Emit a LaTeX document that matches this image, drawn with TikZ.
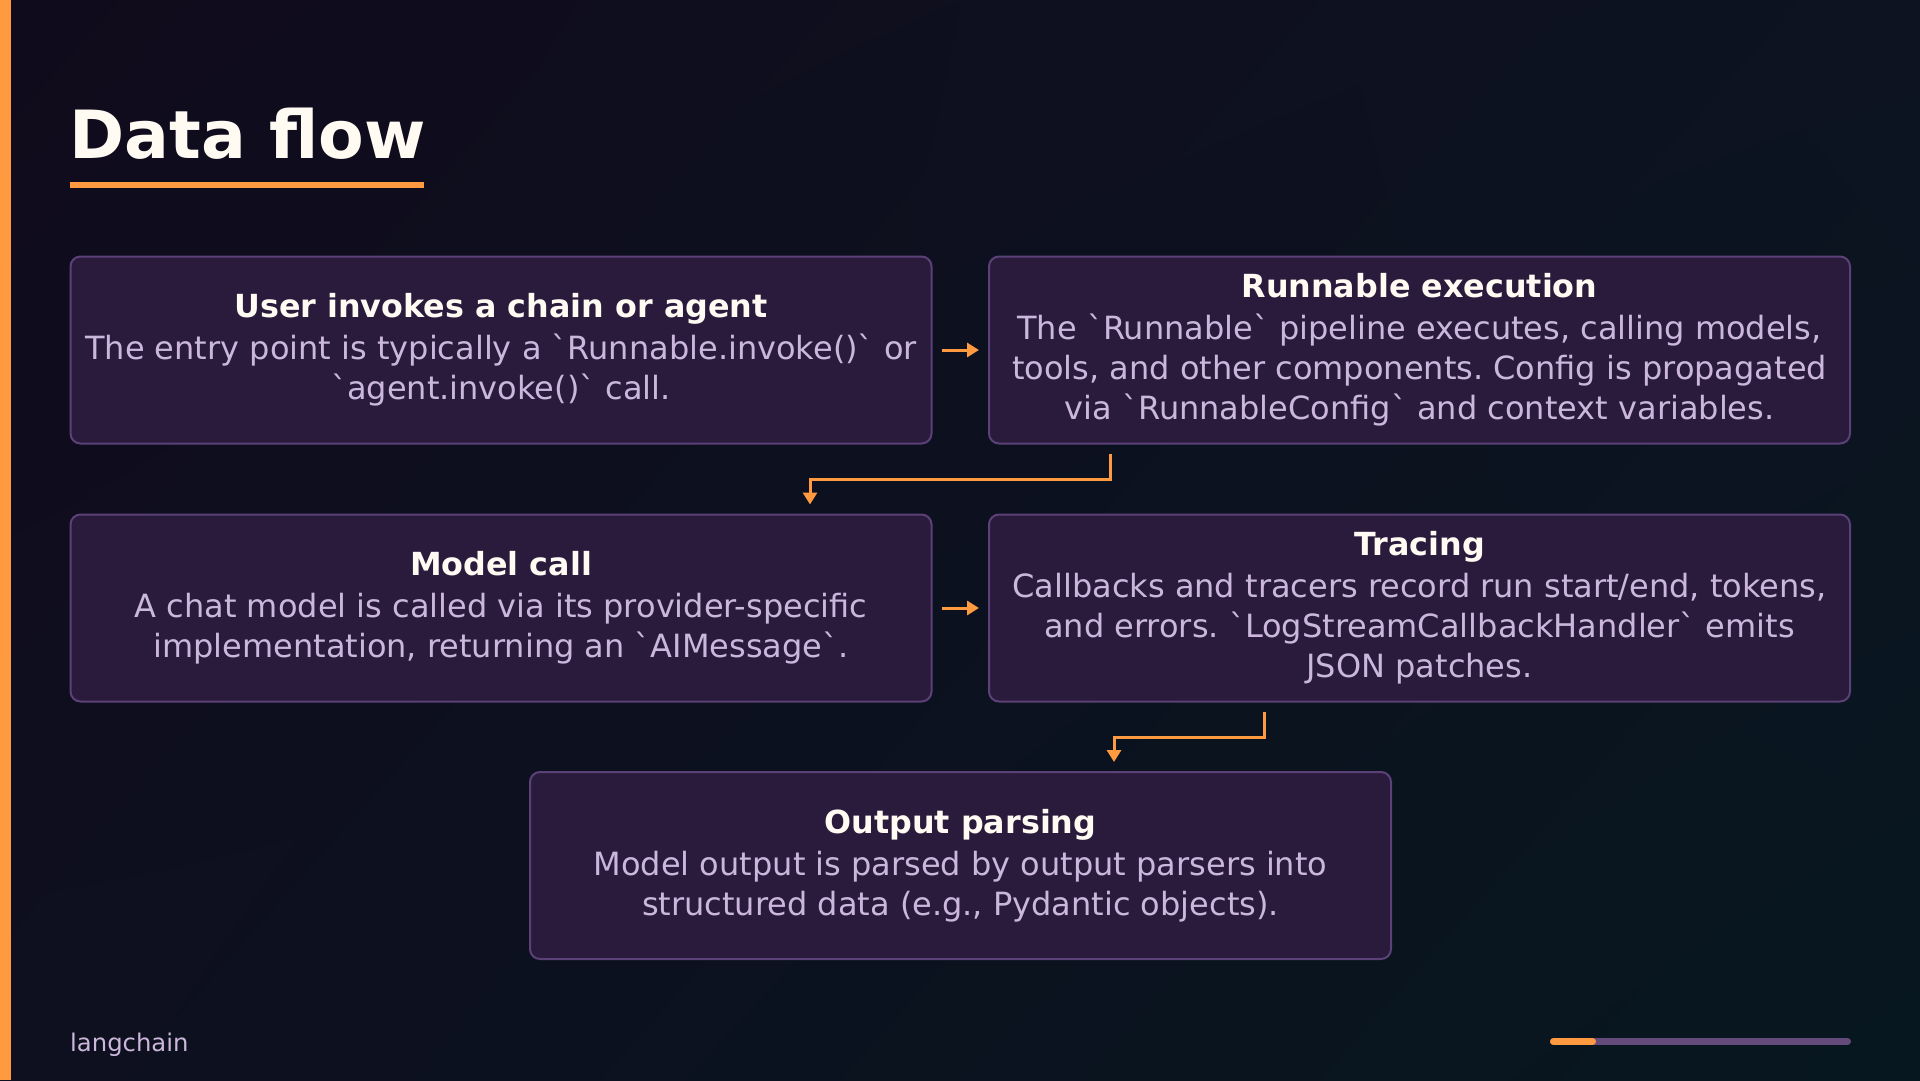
\documentclass[tikz,border=0pt]{standalone}
\usepackage{fontspec}
\setmainfont{DejaVu Sans}[Ligatures=TeXOff]
\usetikzlibrary{arrows.meta,calc,shadings}
\frenchspacing
\definecolor{bgA}{HTML}{100B1C}
\definecolor{bgB}{HTML}{0D1321}
\definecolor{bgC}{HTML}{0E0F1F}
\definecolor{bgD}{HTML}{07171F}
\definecolor{accent}{HTML}{FF9A40}
\definecolor{boxfill}{HTML}{2A1B3D}
\definecolor{boxline}{HTML}{5B4178}
\definecolor{titlec}{HTML}{FFFAF2}
\definecolor{bodyc}{HTML}{CBB7DC}
\definecolor{barpurple}{HTML}{654A7C}
\tikzset{
  card/.style={draw=boxline, line width=2pt, fill=boxfill, rounded corners=10pt,
    minimum width=861pt, minimum height=187pt, inner sep=0pt, align=center,
    text=bodyc, font=\frenchspacing\fontsize{32}{40}\selectfont},
  flowarrow/.style={draw=accent, line width=3pt, -{Triangle[length=12pt,width=14pt]}}
}
\newcommand{\cardhead}[1]{{\bfseries\color{titlec}\fontsize{31.8}{40}\selectfont#1}\\[2pt]}
\begin{document}
\begin{tikzpicture}[x=1pt,y=-1pt]
\useasboundingbox (0,0) rectangle (1920,1080);
\shade[upper left=bgA, upper right=bgB, lower left=bgC, lower right=bgD] (0,0) rectangle (1920,1080);
\fill[accent] (0,0) rectangle (11,1080);
% title
\node[anchor=base west, inner sep=0pt, text=titlec, font=\fontsize{66.5}{78}\selectfont\bfseries] (title) at (69.5,158) {Data flow};
\fill[accent] (70,182) rectangle (424,188);
% cards
\node[card] (b1) at (501,350) {\cardhead{User invokes a chain or agent}The entry point is typically a `Runnable.invoke()` or\\`agent.invoke()` call.};
\node[card] (b2) at (1419.5,350) {\cardhead{Runnable execution}The `Runnable` pipeline executes, calling models,\\tools, and other components. Config is propagated\\via `RunnableConfig` and context variables.};
\node[card] (b3) at (501,608) {\cardhead{Model call}A chat model is called via its provider-specific\\implementation, returning an `AIMessage`.};
\node[card] (b4) at (1419.5,608) {\cardhead{Tracing}Callbacks and tracers record run start/end, tokens,\\and errors. `LogStreamCallbackHandler` emits\\JSON patches.};
\node[card] (b5) at (960.5,865.5) {\cardhead{Output parsing}Model output is parsed by output parsers into\\structured data (e.g., Pydantic objects).};
% connectors
\draw[flowarrow] ([xshift=9pt]b1.east) -- ([xshift=-9pt]b2.west);
\draw[flowarrow] ([xshift=-309.5pt,yshift=-9pt]b2.south) -- ++(0,26) -| ([xshift=309pt,yshift=9pt]b3.north);
\draw[flowarrow] ([xshift=9pt]b3.east) -- ([xshift=-9pt]b4.west);
\draw[flowarrow] ([xshift=-155.5pt,yshift=-9pt]b4.south) -- ++(0,26) -| ([xshift=153.5pt,yshift=9pt]b5.north);
% footer
\node[anchor=base west, inner sep=0pt, text=bodyc, font=\fontsize{24.3}{28}\selectfont] (footer) at (70,1051) {langchain};
\draw[barpurple, line width=7pt, line cap=round] (1553.5,1041.5) -- (1847.5,1041.5);
\draw[accent, line width=7pt, line cap=round] (1553.5,1041.5) -- (1592.5,1041.5);
\end{tikzpicture}
\end{document}
